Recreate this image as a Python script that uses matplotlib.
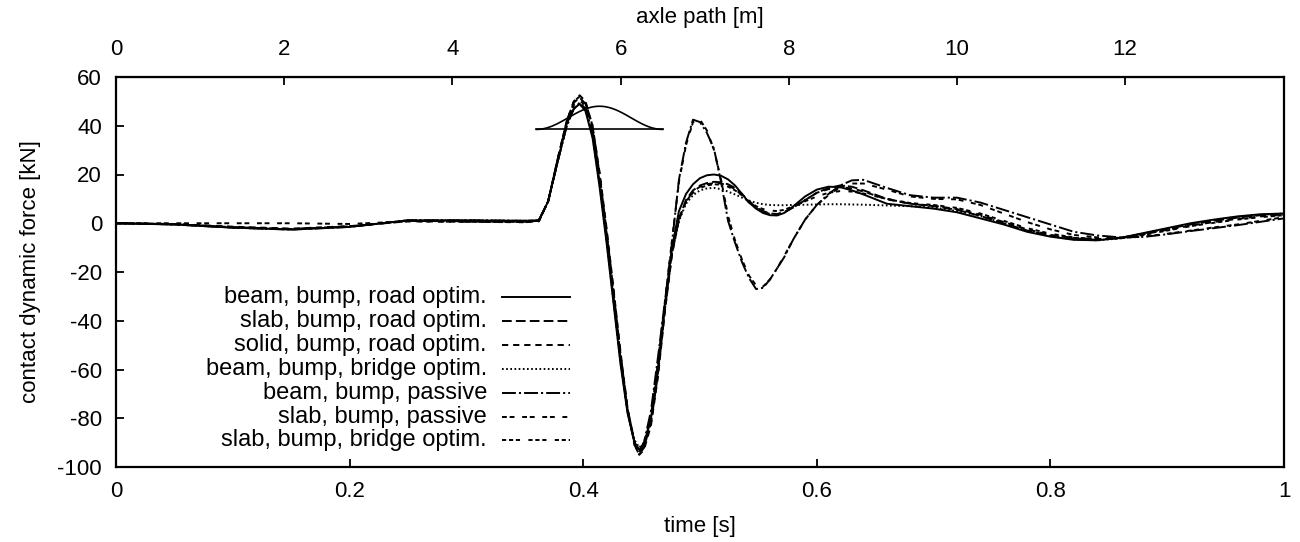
import numpy as np
import matplotlib
matplotlib.use("Agg")
import matplotlib.pyplot as plt
from matplotlib.lines import Line2D

plt.rcParams['font.family'] = ['Liberation Sans', 'DejaVu Sans']
plt.rcParams['lines.scale_dashes'] = False
plt.rcParams['axes.unicode_minus'] = False

# ---------------- data ----------------
speed = 50 / 3.6  # m/s, axle path = speed * time

time_s = [0, 0.05, 0.10, 0.15, 0.20, 0.25, 0.30, 0.35,
          0.362, 0.37, 0.378, 0.386, 0.392, 0.397, 0.402, 0.408, 0.414, 0.42,
          0.426, 0.432, 0.438, 0.444, 0.448, 0.452, 0.458, 0.464, 0.47, 0.476,
          0.482, 0.488, 0.494, 0.50, 0.506, 0.512, 0.518, 0.524, 0.53, 0.536,
          0.542, 0.548, 0.554, 0.56, 0.566, 0.572, 0.58, 0.59, 0.60, 0.61,
          0.62, 0.63, 0.64, 0.66, 0.68, 0.70, 0.72, 0.74, 0.76, 0.78,
          0.80, 0.82, 0.84, 0.86, 0.88, 0.90, 0.92, 0.94, 0.96, 0.98,
          1.0]

beam_road = [0, -0.5, -1.8, -2.6, -1.5, 1.2, 1.2, 1.0,
             1.2, 9, 25, 41, 47, 49, 46, 35, 15, -8,
             -33, -58, -78, -90, -93, -91, -80, -60, -33, -10,
             5, 12, 16, 18.5, 19.7, 20, 19.5, 18, 15.5, 12,
             8.5, 6, 4.2, 3.3, 3.2, 4.2, 7, 11, 13.8, 15,
             14.8, 13.5, 11.8, 8, 7, 6, 4.5, 2, -0.5, -3.5,
             -5.5, -6.8, -7, -6, -4, -2, 0, 1.5, 2.8, 3.7,
             4]

slab_road = [0, -0.4, -1.6, -2.4, -1.3, 1.0, 0.8, 0.6,
             1.0, 9, 26, 42, 49.5, 51.5, 49, 39, 20, -3,
             -28, -54, -76, -90, -94, -92, -82, -62, -35, -12,
             2, 9.5, 13.5, 15.5, 16.5, 17, 16.8, 16, 14.5, 12,
             9, 6.5, 5, 4, 3.8, 4.5, 6.5, 9.5, 12.5, 14.5,
             15.5, 15, 13.5, 10, 8, 7, 5.5, 3, 0, -3,
             -5, -6.3, -6.8, -6, -4.2, -2.3, -0.5, 1, 2.3, 3.3,
             3.8]

solid_road = [0, -0.3, -1.4, -2.2, -1.2, 0.8, 0.6, 0.5,
              0.8, 9, 26, 42, 50, 52.5, 50, 40, 21, -2,
              -27, -53, -76, -91, -95, -93, -83, -63, -36, -13,
              1.5, 9, 13, 15, 16, 16.5, 16.3, 15.5, 14, 11.5,
              8.5, 6.2, 4.6, 3.8, 3.6, 4.5, 6.5, 9.5, 12.5, 14,
              14.8, 14.3, 13, 9.8, 8, 7.2, 5.8, 3.5, 0.5, -2.5,
              -4.8, -6, -6.5, -6, -4.5, -2.7, -1, 0.5, 1.8, 2.8,
              3.5]

beam_bridge = [0, -0.5, -1.8, -2.5, -1.4, 1.2, 1.2, 1.0,
               1.2, 9, 25, 40, 47, 49, 46, 36, 16, -7,
               -32, -57, -77, -89, -92, -90, -80, -60, -34, -12,
               1, 8, 11.5, 13.5, 14.3, 14.5, 14, 13, 11.8, 10.5,
               9.3, 8.4, 7.8, 7.5, 7.4, 7.4, 7.5, 7.6, 7.7, 7.8,
               7.8, 7.7, 7.6, 7.3, 7, 6.5, 5, 3, 0, -3,
               -5.3, -6.6, -7, -6.2, -4.2, -2.2, -0.3, 1.3, 2.6, 3.5,
               4]

beam_passive = [0, -0.5, -1.8, -2.6, -1.5, 1.2, 1.2, 1.0,
                1.2, 9, 25, 40, 47, 49.5, 47, 37, 17, -6,
                -31, -56, -77, -90, -93, -90, -77, -55, -32, -8,
                18, 33, 42.5, 41.5, 37, 30.5, 17, 1, -8, -16,
                -22.5, -27, -26.5, -23, -18.5, -14, -6.5, 1.5, 7.5, 12,
                15.5, 17.6, 17.8, 14.5, 11.5, 10.5, 10.5, 8.5, 5.5, 2.5,
                -0.5, -3.5, -5, -5.8, -5.6, -4.5, -3.2, -2, -0.8, 0.6,
                2]

slab_passive = [0, 0, 0, 0, -0.3, 0.8, 0.6, 0.4,
                0.8, 9, 26, 42, 50, 52, 49.5, 40, 20, -4,
                -29, -55, -77, -91, -95, -92, -79, -57, -32, -7,
                17, 32, 41.5, 42.5, 38, 30, 18, 3, -7, -15,
                -21.5, -25.5, -26, -23, -18.5, -13.5, -6.5, 1.5, 7.5, 11.5,
                14.8, 16.3, 16.3, 13.8, 11, 10, 9.8, 7.5, 4, 0.5,
                -2.5, -4.8, -5.8, -6, -5.5, -4.3, -3, -1.7, -0.5, 1,
                2.5]

slab_bridge = [0, -0.4, -1.6, -2.4, -1.3, 1.0, 0.8, 0.6,
               1.0, 9, 25.5, 41, 48.5, 50.5, 48, 38, 18, -5,
               -30, -55, -77, -90, -93.5, -91, -81, -61, -35, -12,
               1.5, 9, 12.5, 14.5, 15.5, 16, 15.8, 15, 13.5, 11.5,
               9, 7, 5.8, 5.2, 5, 5.5, 7, 9, 11, 12.5,
               13.2, 13, 12.2, 10, 8.3, 7.5, 6.3, 4, 1, -2,
               -4.3, -5.8, -6.5, -6.2, -4.8, -3, -1.2, 0.2, 1.5, 2.5,
               3.3]

labels = ["beam, bump, road optim.",
          "slab, bump, road optim.",
          "solid, bump, road optim.",
          "beam, bump, bridge optim.",
          "beam, bump, passive",
          "slab, bump, passive",
          "slab, bump, bridge optim."]

# bump sketch (axle path start/end [m], baseline and height in plot units)
bump_path = [5.0, 6.5]
bump_base = 38.5
bump_height = 9.5

y_ticks = [-100, -80, -60, -40, -20, 0, 20, 40, 60]
x_ticks = [0, 0.2, 0.4, 0.6, 0.8, 1]
x_ticklabels = ['0', '0.2', '0.4', '0.6', '0.8', '1']
path_ticks = [0, 2, 4, 6, 8, 10, 12]

# ---------------- styles ----------------
styles = [
    dict(linestyle='-'),
    dict(linestyle=(0, (7, 3))),
    dict(linestyle=(0, (4.5, 3.5))),
    dict(linestyle=(0, (1.2, 1.8))),
    dict(linestyle=(0, (10, 2.2, 1.5, 2.2))),
    dict(linestyle=(0, (3.5, 2, 3.5, 5.5))),
    dict(linestyle=(0, (3, 2, 3, 2, 3, 6))),
]
series = [beam_road, slab_road, solid_road, beam_bridge,
          beam_passive, slab_passive, slab_bridge]

fig = plt.figure(figsize=(13, 5.42), dpi=100)
ax = fig.add_axes([116 / 1300, 1 - 467 / 542, 1168 / 1300, 390 / 542])

t = np.array(time_s)
for vals, st in zip(series, styles):
    ax.plot(t, vals, color='black', lw=1.4, **st)

# bump sketch
p = np.linspace(bump_path[0], bump_path[1], 100)
prof = bump_base + bump_height * 0.5 * (1 - np.cos(2 * np.pi * (p - bump_path[0]) / (bump_path[1] - bump_path[0])))
ax.plot(p / speed, prof, color='black', lw=1.2)
ax.plot(np.array(bump_path) / speed, [bump_base, bump_base], color='black', lw=1.2)

ax.set_xlim(0, 1)
ax.set_ylim(-100, 60)
ax.set_xticks(x_ticks)
ax.set_xticklabels(x_ticklabels)
ax.set_yticks(y_ticks)
ax.tick_params(direction='in', length=6, width=1.3, labelsize=16, pad=10,
               right=False, top=False)
for s in ax.spines.values():
    s.set_linewidth(1.6)

ax.set_xlabel('time [s]', fontsize=16, labelpad=10)
ax.set_ylabel('contact dynamic force [kN]', fontsize=16, labelpad=12)

sec = ax.secondary_xaxis('top', functions=(lambda x: x * speed, lambda s: s / speed))
sec.set_xticks(path_ticks)
sec.tick_params(direction='in', length=6, width=1.3, labelsize=16, pad=12)
sec.set_xlabel('axle path [m]', fontsize=16, labelpad=12)

# legend (gnuplot style: right-aligned text, sample to the right)
x_txt = (487 - 116) / 1168
x_l0 = (502 - 116) / 1168
x_l1 = (570 - 116) / 1168
y0 = (467 - 297) / 390
dy = 23.9 / 390
for i, (lab, st) in enumerate(zip(labels, styles)):
    yy = y0 - i * dy
    ax.text(x_txt, yy, lab, transform=ax.transAxes, ha='right', va='center', fontsize=17)
    ax.add_line(Line2D([x_l0, x_l1], [yy, yy], transform=ax.transAxes,
                       color='black', lw=1.4, **st))

fig.savefig('out.png', dpi=100)
